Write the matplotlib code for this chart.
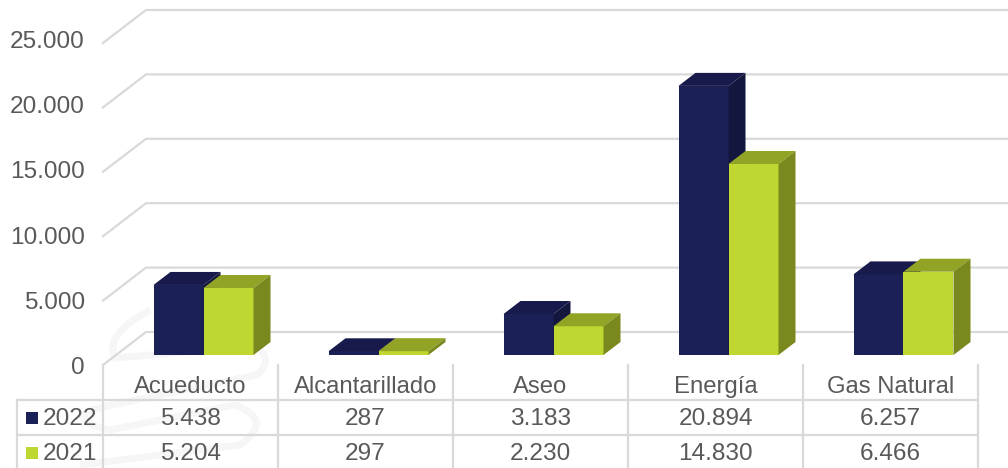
import matplotlib
matplotlib.use('Agg')
import matplotlib.pyplot as plt
from matplotlib.path import Path
from matplotlib.patches import PathPatch

categories = ['Acueducto', 'Alcantarillado', 'Aseo', 'Energía', 'Gas Natural']
series_names = ['2022', '2021']
values_2022 = [5438, 287, 3183, 20894, 6257]
values_2021 = [5204, 297, 2230, 14830, 6466]
y_ticks = [0, 5000, 10000, 15000, 20000, 25000]

plt.rcParams['font.family'] = ['Liberation Sans', 'DejaVu Sans']
GREY = '#595959'
LINE = '#D9D9D9'

fig = plt.figure(figsize=(10.08, 4.68), dpi=100)
ax = fig.add_axes([0, 0, 1, 1])

# eje: x en categorias, y en valores, base de las barras en y=355 px
CAT_W = 175
Y_SCALE = 64.4 / 5000
ax.set_xlim(-103 / CAT_W, (1008 - 103) / CAT_W)
ax.set_ylim(-(468 - 355) / Y_SCALE, 355 / Y_SCALE)
ax.axis('off')

def dx(p):
    return p / CAT_W

def dy(p):
    return p / Y_SCALE

def fmt(v):
    return f'{v:,}'.replace(',', '.')

# marca de agua muy tenue detras del grafico
clip_px = [(150, 310), (103, 335), (115, 358), (190, 352), (255, 345), (275, 360), (257, 375),
           (170, 392), (90, 410), (70, 422), (110, 430), (170, 418), (235, 405), (275, 420),
           (240, 445), (160, 455), (80, 465)]
clip_pts = [(dx(x - 103), dy(355 - y)) for x, y in clip_px]
clip_codes = [Path.MOVETO] + [Path.CURVE3] * (len(clip_pts) - 1)
ax.add_patch(PathPatch(Path(clip_pts, clip_codes), fill=False, edgecolor='#F6F6F6', lw=5, zorder=0))

# paredes con lineas de la grilla
floor = dy(-10)
for t in y_ticks:
    y0 = t + floor
    ax.plot([0, dx(43), dx(905)], [y0, y0 + dy(33), y0 + dy(33)], color=LINE, lw=1.6, zorder=1)
    ax.text(dx(-18), t * 65.2 / 64.4 + floor + dy(-3), fmt(t), ha='right', va='center', color=GREY, fontsize=17.6)

depth_x = dx(17)
depth_y = dy(13)
bar_w = dx(50)
start = dx(50.5)

def draw_bar(x, v, front, top, side, z):
    ax.fill([x, x + bar_w, x + bar_w, x], [0, 0, v, v], color=front, lw=0, zorder=z)
    ax.fill([x, x + bar_w, x + bar_w + depth_x, x + depth_x], [v, v, v + depth_y, v + depth_y], color=top, lw=0, zorder=z)
    ax.fill([x + bar_w, x + bar_w + depth_x, x + bar_w + depth_x, x + bar_w],
            [0, depth_y, v + depth_y, v], color=side, lw=0, zorder=z)

for i in range(len(categories)):
    draw_bar(i + start, values_2022[i], '#1B2157', '#171A4A', '#13173D', 3)
    draw_bar(i + start + bar_w, values_2021[i], '#BFD730', '#92A326', '#7A881E', 4)

# tabla de datos
row1 = dy(-45)
row2 = dy(-80)
bottom = dy(-113)
top_t = dy(-10)
for i in range(len(categories) + 1):
    ax.plot([i, i], [top_t, bottom], color=LINE, lw=1.6, zorder=1)
ax.plot([dx(-86), dx(-86)], [row1, bottom], color=LINE, lw=1.6, zorder=1)
for y in (row1, row2):
    ax.plot([dx(-86), 5], [y, y], color=LINE, lw=1.6, zorder=1)

for i, c in enumerate(categories):
    ax.text(i + 0.5, dy(-32), c, ha='center', va='center', color=GREY, fontsize=17.2)
    ax.text(i + 0.5, dy(-64), fmt(values_2022[i]), ha='center', va='center', color=GREY, fontsize=17.6)
    ax.text(i + 0.5, dy(-99), fmt(values_2021[i]), ha='center', va='center', color=GREY, fontsize=17.6)

for y, name, col in zip((dy(-63), dy(-98)), series_names, ('#1B2157', '#BFD730')):
    ax.plot([dx(-71)], [y], marker='s', ms=9, color=col, mew=0, zorder=3)
    ax.text(dx(-60), y - dy(1), name, ha='left', va='center', color=GREY, fontsize=17.6)

fig.savefig('out.png', dpi=100)
